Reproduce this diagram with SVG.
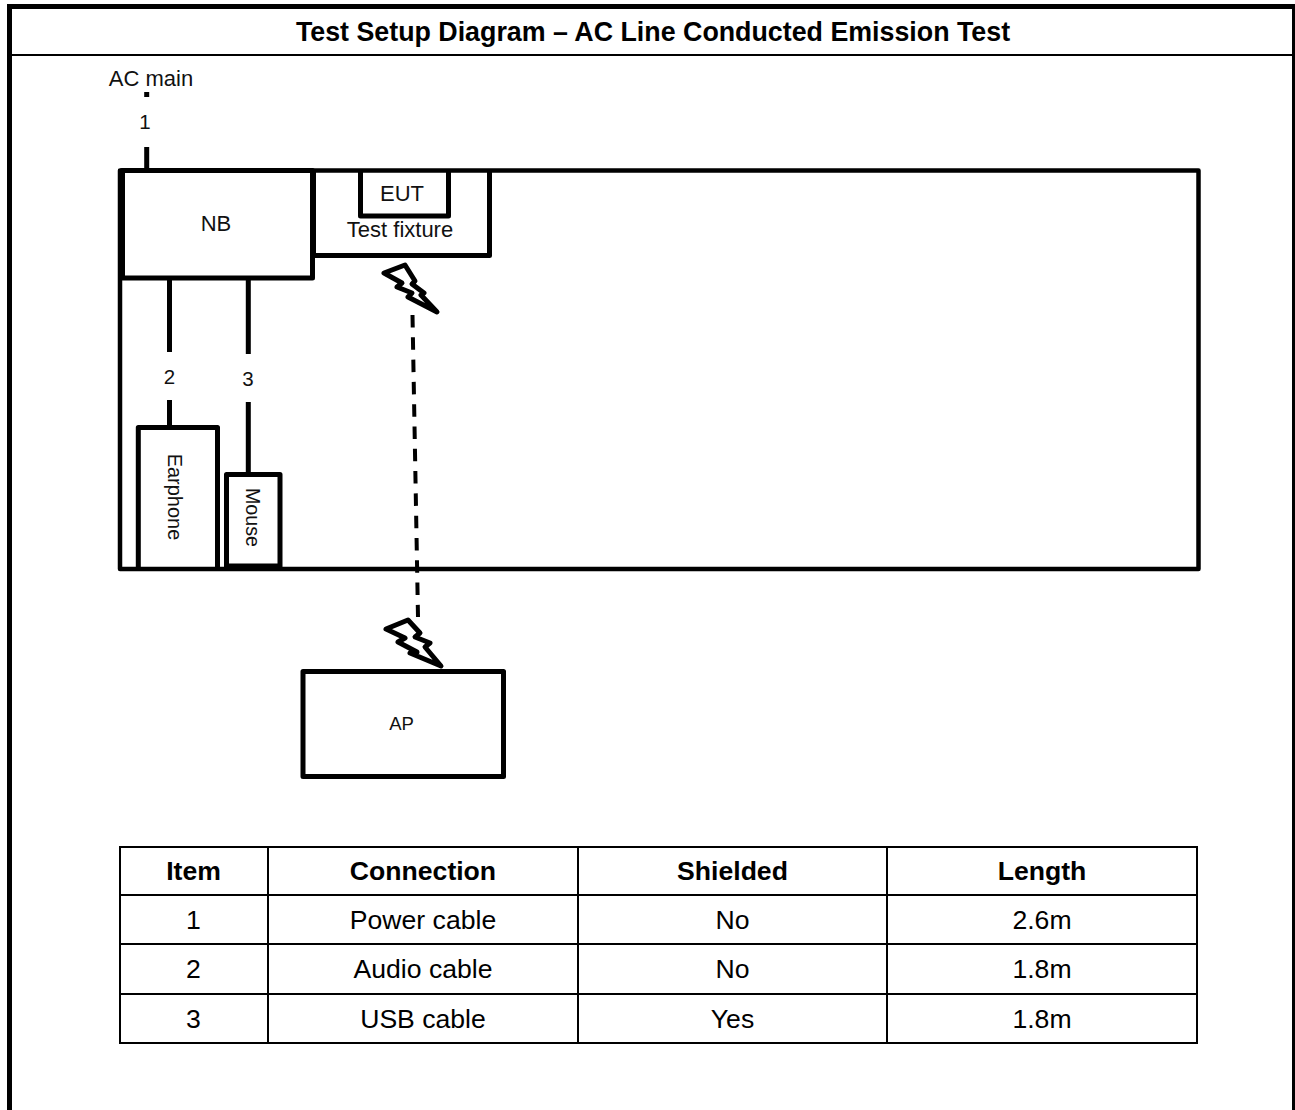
<svg xmlns="http://www.w3.org/2000/svg" width="1295" height="1110" viewBox="0 0 1295 1110">
<style>
.b{fill:none;stroke:#000;stroke-width:5;stroke-linejoin:round}
.c{fill:none;stroke:#000;stroke-width:5}
.t{font-family:"Liberation Sans",Arial,sans-serif;font-size:22px;text-anchor:middle;fill:#111}
.n{font-size:20.5px}
.s{fill:#000}
.cell{font-family:"Liberation Sans",Arial,sans-serif;font-size:26.6px;text-anchor:middle;fill:#000}
.h{font-weight:bold}
.g{stroke:#000;stroke-width:2}
.bolt{fill:#fff;stroke:#000;stroke-width:5;stroke-linejoin:round}
</style>
<rect width="1295" height="1110" fill="#fff"/>
<g id="frame">
<rect class="s" x="7" y="4" width="1288" height="5"/>
<rect class="s" x="7" y="4" width="5" height="1106"/>
<rect class="s" x="1292" y="4" width="3" height="1106"/>
<rect class="s" x="12" y="54" width="1280" height="2"/>
<text class="cell h" x="653" y="41" style="font-size:26.8px">Test Setup Diagram – AC Line Conducted Emission Test</text>
</g>
<g id="connectors">
<path class="c" d="M146.700 92V97M146.700 147V171M169.500 278V352M169.500 400V427M248.300 278V354M248.300 402V473"/>
<path d="M412.500 315L418 617" fill="none" stroke="#000" stroke-width="4" stroke-dasharray="12.500 9.800"/>
</g>
<g id="room"><rect x="120" y="170.500" width="1078.500" height="398.500" fill="none" stroke="#000" stroke-width="4.500" stroke-linejoin="round"/><rect class="s" x="118" y="169" width="7" height="110"/></g>
<g id="nb"><rect class="b" x="122" y="170.500" width="190.500" height="107.500"/><text class="t" x="216" y="231">NB</text></g>
<g id="fixture"><path class="b" d="M313.500 171V255.500H489.500V171"/><text class="t" x="400" y="236.500">Test fixture</text></g>
<g id="eut"><path class="b" d="M360.500 171V216H448.500V171"/><text class="t" x="402" y="200.500">EUT</text></g>
<g id="earphone"><path class="b" d="M138.300 569V427.500H217.500V569"/><text class="t" transform="translate(168 497) rotate(90)" style="font-size:20px">Earphone</text></g>
<g id="mouse"><path class="b" d="M226.500 567V474.500H280V567Z"/><path class="c" d="M226 566H280"/><text class="t" transform="translate(246 517.500) rotate(90)" style="font-size:19.700px">Mouse</text></g>
<g id="ap"><rect class="b" x="303" y="671.500" width="200.500" height="105"/><text class="t" x="401.500" y="730" style="font-size:18.500px">AP</text></g>
<g id="bolt1"><path class="bolt" d="M384 273L405 265L415 281L412 284L424 293L421 295L437 312L408 297L412 293L397 287L402 283Z"/></g>
<g id="bolt2"><path class="bolt" d="M386 629L408 620L420 633L415 637L430 643L425 647L441 666L410 653L417 652L398 642L405 638Z"/></g>
<g id="ac-main"><text class="t" x="151" y="86">AC main</text></g>
<g id="label-1"><text class="t n" x="145" y="129">1</text></g>
<g id="label-2"><text class="t n" x="169.500" y="384">2</text></g>
<g id="label-3"><text class="t n" x="248" y="385.500">3</text></g>
<g id="table">
<rect x="120" y="847" width="1077" height="196" fill="none" stroke="#000" stroke-width="2"/>
<path class="g" d="M120 895H1197M120 944H1197M120 994H1197M268 847V1043M578 847V1043M887 847V1043"/>
<text class="cell h" x="193.500" y="880">Item</text><text class="cell h" x="423" y="880">Connection</text><text class="cell h" x="732.500" y="880">Shielded</text><text class="cell h" x="1042" y="880">Length</text>
<text class="cell" x="193.500" y="929">1</text><text class="cell" x="423" y="929">Power cable</text><text class="cell" x="732.500" y="929">No</text><text class="cell" x="1042" y="929">2.6m</text>
<text class="cell" x="193.500" y="978">2</text><text class="cell" x="423" y="978">Audio cable</text><text class="cell" x="732.500" y="978">No</text><text class="cell" x="1042" y="978">1.8m</text>
<text class="cell" x="193.500" y="1028">3</text><text class="cell" x="423" y="1028">USB cable</text><text class="cell" x="732.500" y="1028">Yes</text><text class="cell" x="1042" y="1028">1.8m</text>
</g>
</svg>
